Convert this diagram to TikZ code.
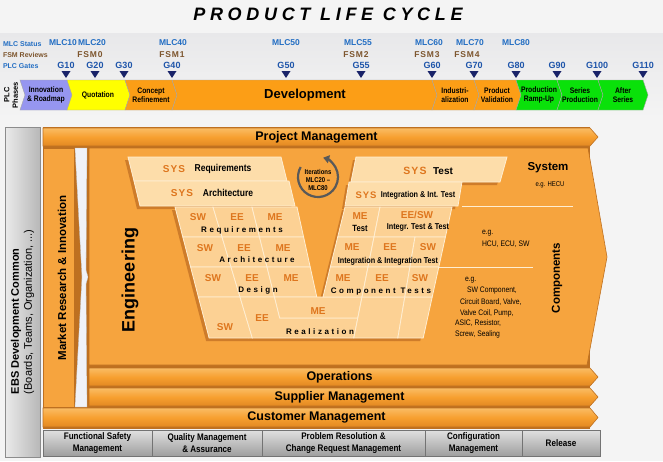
\documentclass[tikz,border=0pt]{standalone}
\usepackage{fontspec}
\setmainfont{Liberation Sans}
\newfontfamily\nrw[FakeStretch=0.85]{Liberation Sans}
\newfontfamily\ttlf[LetterSpace=26]{Liberation Sans}
\newfontfamily\spcf[LetterSpace=32]{Liberation Sans}
\newfontfamily\sysf[LetterSpace=10]{Liberation Sans}
\usetikzlibrary{arrows.meta}
\newcommand\fs[2]{\fontsize{#1}{#2}\selectfont}
\definecolor{bg}{RGB}{244,244,244}
\definecolor{hdr}{RGB}{232,232,234}
\definecolor{mlcblue}{RGB}{35,110,195}
\definecolor{gateblue}{RGB}{30,85,170}
\definecolor{fsmbrown}{RGB}{125,85,45}
\definecolor{navy}{RGB}{25,35,105}
\definecolor{lav}{RGB}{150,150,240}
\definecolor{yel}{RGB}{255,255,0}
\definecolor{phor}{RGB}{252,158,22}
\definecolor{grn}{RGB}{10,225,10}
\definecolor{eng}{RGB}{246,164,62}
\definecolor{bandmid}{RGB}{247,160,48}
\definecolor{bandtop}{RGB}{250,188,100}
\definecolor{bandbot}{RGB}{226,136,34}
\definecolor{edge}{RGB}{190,112,32}
\definecolor{cellfill}{RGB}{252,209,148}
\definecolor{sysfill}{RGB}{253,221,170}
\definecolor{cellline}{RGB}{255,238,210}
\definecolor{shadowc}{RGB}{206,124,42}
\definecolor{lbl}{RGB}{222,118,30}
\definecolor{strip}{RGB}{240,242,248}
\newcommand\chev[3]{\fill[#3, draw=black!35, line width=0.4pt] (#1,80) -- (#2,80) -- ({#2+5},95) -- (#2,110) -- (#1,110) -- ({#1+5},95) -- cycle;}
\newcommand\bandarrow[5]{\draw[bandsty] (#1,#2) -- (590,#2) -- (598,{(#2+#3)/2}) -- (590,#3) -- (#1,#3) -- cycle;
  \node[bandtxt] (#4) at ({(#1+590)/2},{(#2+#3)/2}) {#5};}
\newcommand\gbox[4]{\draw[gboxsty] (#1,430) rectangle (#2,456); \node[gtxtsty] (#3) at ({(#1+#2)/2},443) {#4};}
\newcommand\Vshapes{%
 \path[vsys] (128,157) -- (281,157) -- (287,181) -- (134,181) -- cycle;
 \path[vsys] (134,181) -- (289,181) -- (295,206) -- (140,206) -- cycle;
 \path[vsys] (356,157) -- (507,157) -- (500,182) -- (351,182) -- cycle;
 \path[vsys] (349,182) -- (462,182) -- (458,206) -- (345,206) -- cycle;
 % left arm
 \path[vcell] (175,207) -- (213,207) -- (222,237) -- (182.8,237) -- cycle;
 \path[vcell] (213,207) -- (252,207) -- (259.5,237) -- (222,237) -- cycle;
 \path[vcell] (252,207) -- (297,207) -- (303.6,237) -- (259.5,237) -- cycle;
 \path[vcell] (182.8,237) -- (222,237) -- (231,267) -- (190.6,267) -- cycle;
 \path[vcell] (222,237) -- (259.5,237) -- (267,267) -- (231,267) -- cycle;
 \path[vcell] (259.5,237) -- (303.6,237) -- (310.2,267) -- (267,267) -- cycle;
 \path[vcell] (190.6,267) -- (231,267) -- (240,297) -- (198.4,297) -- cycle;
 \path[vcell] (231,267) -- (267,267) -- (274.5,297) -- (240,297) -- cycle;
 \path[vcell] (267,267) -- (310.2,267) -- (316.8,297) -- (274.5,297) -- cycle;
 % bottom
 \path[vcell] (198.4,297) -- (240,297) -- (252.3,338) -- (209.1,338) -- cycle;
 \path[vcell] (240,297) -- (274.5,297) -- (279.75,318) -- (357.8,318) -- (353.8,338) -- (252.3,338) -- cycle;
 \path[vcell] (274.5,297) -- (362,297) -- (357.8,318) -- (279.75,318) -- cycle;
 \path[vcell] (362,297) -- (404.8,297) -- (397.8,338) -- (353.8,338) -- cycle;
 \path[vcell] (404.8,297) -- (432.2,297) -- (423.2,338) -- (397.8,338) -- cycle;
 % right arm
 \path[vcell] (345,207) -- (380,207) -- (374,237) -- (337.7,237) -- cycle;
 \path[vcell] (380,207) -- (452,207) -- (445.4,237) -- (374,237) -- cycle;
 \path[vcell] (337.7,237) -- (374,237) -- (368,267) -- (330.3,267) -- cycle;
 \path[vcell] (374,237) -- (415,237) -- (409.9,267) -- (368,267) -- cycle;
 \path[vcell] (415,237) -- (445.4,237) -- (438.8,267) -- (409.9,267) -- cycle;
 \path[vcell] (330.3,267) -- (368,267) -- (362,297) -- (323,297) -- cycle;
 \path[vcell] (368,267) -- (409.9,267) -- (404.8,297) -- (362,297) -- cycle;
 \path[vcell] (409.9,267) -- (438.8,267) -- (432.2,297) -- (404.8,297) -- cycle;
}
\begin{document}
\begin{tikzpicture}[x=1pt,y=-1pt,
  txt/.style={inner sep=0pt, outer sep=0pt, anchor=center},
  mlcsty/.style={txt, text=mlcblue, font={\bfseries\fs{8.5}{9}}},
  fsmsty/.style={txt, text=fsmbrown, font={\sysf\bfseries\fs{8.5}{9}}},
  gatesty/.style={txt, text=gateblue, font={\bfseries\fs{9}{9}}},
  phtxt/.style={txt, align=center, font={\nrw\bfseries\fs{8}{9.5}}},
  bandsty/.style={top color=bandtop, bottom color=bandbot, middle color=bandmid, draw=edge, line width=0.6pt},
  bandtxt/.style={txt, font={\bfseries\fs{12.5}{13}}},
  gboxsty/.style={top color=black!12, bottom color=black!38, draw=black!55, line width=0.5pt},
  gtxtsty/.style={txt, align=center, font={\nrw\bfseries\fs{9.5}{12}}},
  lblsty/.style={txt, text=lbl, font={\bfseries\fs{10}{10}}},
  lblsys/.style={txt, text=lbl, font={\sysf\bfseries\fs{10}{10}}},
  descsty/.style={txt, font={\nrw\bfseries\fs{8.5}{9}}},
  descsys/.style={txt, font={\nrw\bfseries\fs{10}{10}}},
  spcsty/.style={txt, font={\spcf\bfseries\fs{8}{8}}},
  smalltxt/.style={txt, anchor=west, font={\nrw\fs{8}{9}}}
]
\useasboundingbox (0,0) rectangle (663,461);
\fill[bg] (0,0) rectangle (663,461);
\fill[top color=hdr, bottom color=bg] (0,33) rectangle (663,118);

% title
\node[txt] (title) at (328,14) {\ttlf\bfseries\itshape\fs{18}{18}PRODUCT LIFE CYCLE};

% header labels
\node[txt, anchor=west, text=mlcblue, font={\bfseries\fs{7}{8}}] (mlcstatus) at (3,44) {MLC Status};
\node[txt, anchor=west, text=fsmbrown, font={\bfseries\fs{7}{8}}] (fsmrev) at (3,55) {FSM Reviews};
\node[txt, anchor=west, text=mlcblue, font={\bfseries\fs{7}{8}}] (plcgates) at (3,66) {PLC Gates};
\foreach \n/\x in {10/63,20/92,40/173,50/286,55/358,60/429,70/470,80/516}
  \node[mlcsty] (mlc\n) at (\x,43) {MLC\n};
\foreach \n/\x in {0/90,1/172,2/356,3/427,4/467}
  \node[fsmsty] (fsm\n) at (\x,55) {FSM\n};
\foreach \n/\x in {10/66,20/95,30/124,40/172,50/286,55/361,60/432,70/474,80/516,90/557,100/597,110/643}{
  \node[gatesty] (g\n) at (\x,65) {G\n};
  \fill[navy] (\x-4.5,71) -- (\x+4.5,71) -- (\x,78) -- cycle;
}

% phases
\node[txt, rotate=90, align=center, font={\bfseries\fs{7.5}{8.5}}] (plcph) at (11,95) {PLC\\Phases};
\chev{20}{67}{lav}
\chev{67}{125}{yel}
\chev{125}{172}{phor}
\chev{172}{432}{phor}
\chev{432}{474}{phor}
\chev{474}{516}{phor}
\chev{516}{557}{grn}
\chev{557}{598}{grn}
\chev{598}{643}{grn}
\node[phtxt] (ph1) at (46,95) {Innovation\\\& Roadmap};
\node[phtxt] (ph2) at (98,95) {Quotation};
\node[phtxt] (ph3) at (151,95) {Concept\\Refinement};
\node[txt, font={\bfseries\fs{13}{13}}] (ph4) at (305,95) {Development};
\node[phtxt] (ph5) at (455,95) {Industri-\\alization};
\node[phtxt] (ph6) at (497,95) {Product\\Validation};
\node[phtxt] (ph7) at (539,95) {Production\\Ramp-Up};
\node[phtxt] (ph8) at (580,95) {Series\\Production};
\node[phtxt] (ph9) at (623,95) {After\\Series};

% left grey column
\draw[left color=black!8, right color=black!28, draw=black!45, line width=0.5pt] (5,127) rectangle (40,457);
\node[txt, rotate=90, anchor=west, align=left, font={\fs{11}{13}}] (ebs) at (22.5,394)
  {\textbf{EBS Development Common}\\(Boards, Teams, Organization, ...)};

% orange base
\fill[edge] (43,127) rectangle (590,429);
\bandarrow{43}{128}{146}{pm}{Project Management}
\draw[fill=eng, draw=edge, line width=0.6pt] (43,148) rectangle (74,407);
\fill[strip, draw=black!25, line width=0.3pt] (75,148) -- (87,148) -- (86,270) -- (88,277) -- (86,284) -- (87,407) -- (75,407) -- (82,277) -- cycle;
\node[txt, rotate=90, font={\bfseries\fs{11.5}{12}}] (mkt) at (62,278) {Market Research \& Innovation};
\draw[fill=eng, draw=edge, line width=0.6pt] (89,148) -- (588,148) -- (607,257) -- (587,365) -- (89,365) -- cycle;
\bandarrow{89}{368}{386}{ops}{Operations}
\bandarrow{89}{388}{406}{sup}{Supplier Management}
\bandarrow{43}{408}{427}{cust}{Customer Management}

\node[txt, rotate=90, font={\bfseries\fs{18}{18}}] (engtxt) at (130,280) {Engineering};

% separators & right texts
\draw[cellline, line width=0.8pt] (462,206) -- (573,206);
\draw[cellline, line width=0.8pt] (439,267) -- (533,267);
\node[txt, font={\bfseries\fs{11.5}{12}}] (system) at (548,168) {System};
\node[txt, font={\nrw\fs{7}{8}}] (hecu) at (550,185) {e.g. HECU};
\node[smalltxt] (eg1) at (482,233) {e.g.};
\node[smalltxt] (hcu) at (482,244) {HCU, ECU, SW};
\node[smalltxt] (eg2) at (465,280) {e.g.};
\node[smalltxt] (c1) at (467,291) {SW Component,};
\node[smalltxt] (c2) at (460,302) {Circuit Board, Valve,};
\node[smalltxt] (c3) at (460,313) {Valve Coil, Pump,};
\node[smalltxt] (c4) at (455,323) {ASIC, Resistor,};
\node[smalltxt] (c5) at (455,334) {Screw, Sealing};
\node[txt, rotate=90, font={\bfseries\fs{11.5}{12}}] (comp) at (557,278) {Components};

% V shadows and cells
\begin{scope}[xshift=-3pt, yshift=-3pt, vsys/.style={fill=shadowc}, vcell/.style={fill=shadowc}]
\Vshapes
\end{scope}
\begin{scope}[vsys/.style={fill=sysfill, draw=cellline, line width=0.8pt}, vcell/.style={fill=cellfill, draw=cellline, line width=0.8pt}]
\Vshapes
\end{scope}

% iteration circle
\draw[line width=2.2pt, draw=black!65, -{Triangle[length=6pt,width=8pt]}] ([shift={(210:20)}]318,177) arc[start angle=210, end angle=-75, radius=20];
\node[txt, align=center, font={\nrw\bfseries\fs{7}{7.8}}] (iter) at (318,180) {Iterations\\MLC20 –\\MLC80};

% SYS texts
\node[lblsys] (sysreqL) at (174,169) {SYS};
\node[descsys] (reqL) at (223,169) {Requirements};
\node[lblsys] (sysarchL) at (182,193) {SYS};
\node[descsys] (archL) at (228,193) {Architecture};
\node[lblsys, font={\sysf\bfseries\fs{10.5}{10.5}}] (systestR) at (415,171) {SYS};
\node[txt, font={\bfseries\fs{10}{10}}] (testR) at (443,171) {Test};
\node[lblsys, font={\sysf\bfseries\fs{9.5}{9.5}}] (sysintR) at (366,195) {SYS};
\node[descsty] (intR) at (418,195) {Integration \& Int. Test};

% left arm texts
\node[lblsty] (swR1) at (198,217) {SW};
\node[lblsty] (eeR1) at (237,217) {EE};
\node[lblsty] (meR1) at (275,217) {ME};
\node[spcsty] (reqrow) at (242,230) {Requirements};
\node[lblsty] (swR2) at (205,248) {SW};
\node[lblsty] (eeR2) at (244,248) {EE};
\node[lblsty] (meR2) at (283,248) {ME};
\node[spcsty] (archrow) at (257,260) {Architecture};
\node[lblsty] (swR3) at (213,278) {SW};
\node[lblsty] (eeR3) at (252,278) {EE};
\node[lblsty] (meR3) at (291,278) {ME};
\node[spcsty] (desrow) at (258,290) {Design};
\node[lblsty] (swRe) at (225,327) {SW};
\node[lblsty] (eeRe) at (262,318) {EE};
\node[lblsty] (meRe) at (318,311) {ME};
\node[spcsty] (realrow) at (320,332) {Realization};

% right arm texts
\node[lblsty] (meT1) at (360,216) {ME};
\node[descsty, font={\nrw\bfseries\fs{9}{9}}] (testT1) at (360,228) {Test};
\node[lblsty] (eeswT1) at (417,215) {EE/SW};
\node[descsty] (integT1) at (418,227) {Integr. Test \& Test};
\node[lblsty] (meT2) at (352,247) {ME};
\node[lblsty] (eeT2) at (390,247) {EE};
\node[lblsty] (swT2) at (428,247) {SW};
\node[descsty] (introw) at (388,261) {Integration \& Integration Test};
\node[lblsty] (meT3) at (343,278) {ME};
\node[lblsty] (eeT3) at (382,278) {EE};
\node[lblsty] (swT3) at (420,278) {SW};
\node[spcsty] (ctrow) at (381,292) {Component Tests};

% bottom grey boxes
\gbox{43}{152}{fsm}{Functional Safety\\Management}
\gbox{152}{262}{qma}{Quality Management\\\& Assurance}
\gbox{262}{425}{prc}{Problem Resolution \&\\Change Request  Management}
\gbox{425}{522}{cfg}{Configuration\\Management}
\gbox{522}{600}{rel}{Release}
\end{tikzpicture}
\end{document}
